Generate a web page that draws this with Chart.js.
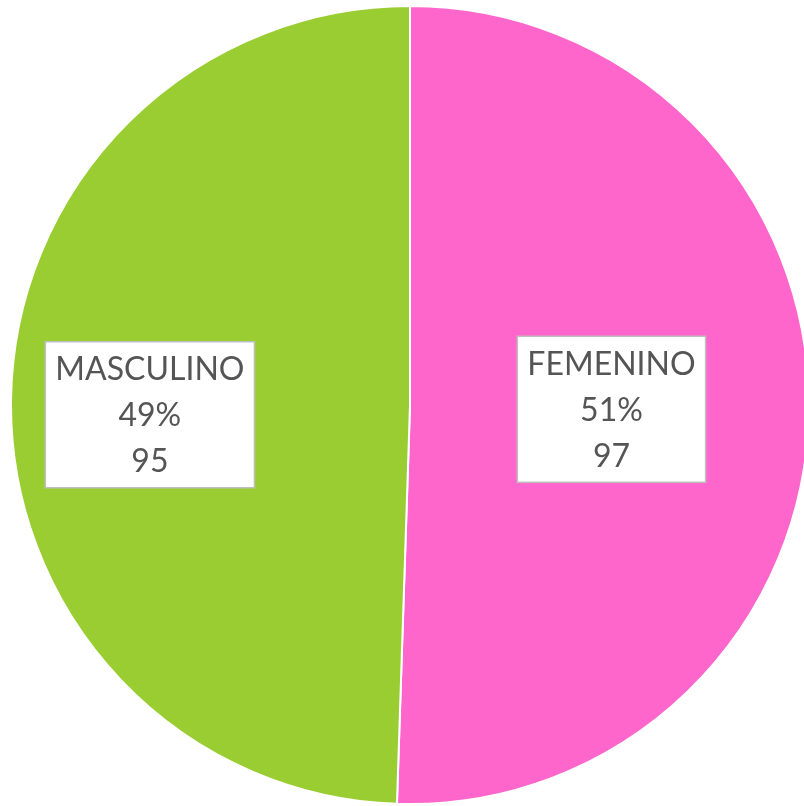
<!DOCTYPE html>
<html>
<head>
<meta charset="utf-8">
<script src="https://cdn.jsdelivr.net/npm/chart.js"></script>
<style>
  html, body { margin: 0; padding: 0; background: #fff; overflow: hidden; }
  #wrap { position: absolute; left: 10px; top: 5px; width: 800px; height: 800px; }
</style>
</head>
<body>
<div id="wrap"><canvas id="myChart" width="800" height="800"></canvas></div>
<script>
// Data
const categories = ['FEMENINO', 'MASCULINO'];
const counts = [97, 95];
const percentLabels = ['51%', '49%'];

const sliceColors = ['#FF66CC', '#9ACD32'];
// where each label box sits (fraction of radius along mid angle, plus a small nudge)
const labelPlace = [
  { frac: 0.505, dy: 1 },
  { frac: 0.652, dy: 14 }
];

const boxLabels = {
  id: 'boxLabels',
  afterDatasetsDraw(chart) {
    const ctx = chart.ctx;
    const arcs = chart.getDatasetMeta(0).data;
    ctx.save();
    ctx.font = '32px Lato';
    ctx.textAlign = 'center';
    ctx.textBaseline = 'middle';
    arcs.forEach((arc, i) => {
      const p = arc.getProps(['x', 'y', 'startAngle', 'endAngle', 'outerRadius'], true);
      const mid = (p.startAngle + p.endAngle) / 2;
      const cx = p.x + Math.cos(mid) * p.outerRadius * labelPlace[i].frac;
      const cy = p.y + Math.sin(mid) * p.outerRadius * labelPlace[i].frac + labelPlace[i].dy;
      const lines = [categories[i], percentLabels[i], String(counts[i])];
      const w = Math.max(...lines.map(t => ctx.measureText(t).width)) + 20;
      const lineH = 46;
      const h = lineH * lines.length + 8;
      ctx.fillStyle = '#ffffff';
      ctx.fillRect(cx - w / 2, cy - h / 2, w, h);
      ctx.strokeStyle = '#BFBFBF';
      ctx.lineWidth = 1.5;
      ctx.strokeRect(cx - w / 2, cy - h / 2, w, h);
      ctx.fillStyle = '#555555';
      lines.forEach((t, k) => {
        ctx.fillText(t, cx, cy + (k - 1) * lineH + 1);
      });
    });
    ctx.restore();
  }
};

const data = {
  labels: categories,
  datasets: [{
    data: counts,
    backgroundColor: sliceColors,
    borderColor: '#ffffff',
    borderWidth: 2
  }]
};

const config = {
  type: 'pie',
  data: data,
  options: {
    responsive: false,
    animation: false,
    layout: { padding: 0 },
    plugins: {
      legend: { display: false },
      tooltip: { enabled: false }
    }
  },
  plugins: [boxLabels]
};

const myChart = new Chart(document.getElementById('myChart'), config);
</script>
</body>
</html>
